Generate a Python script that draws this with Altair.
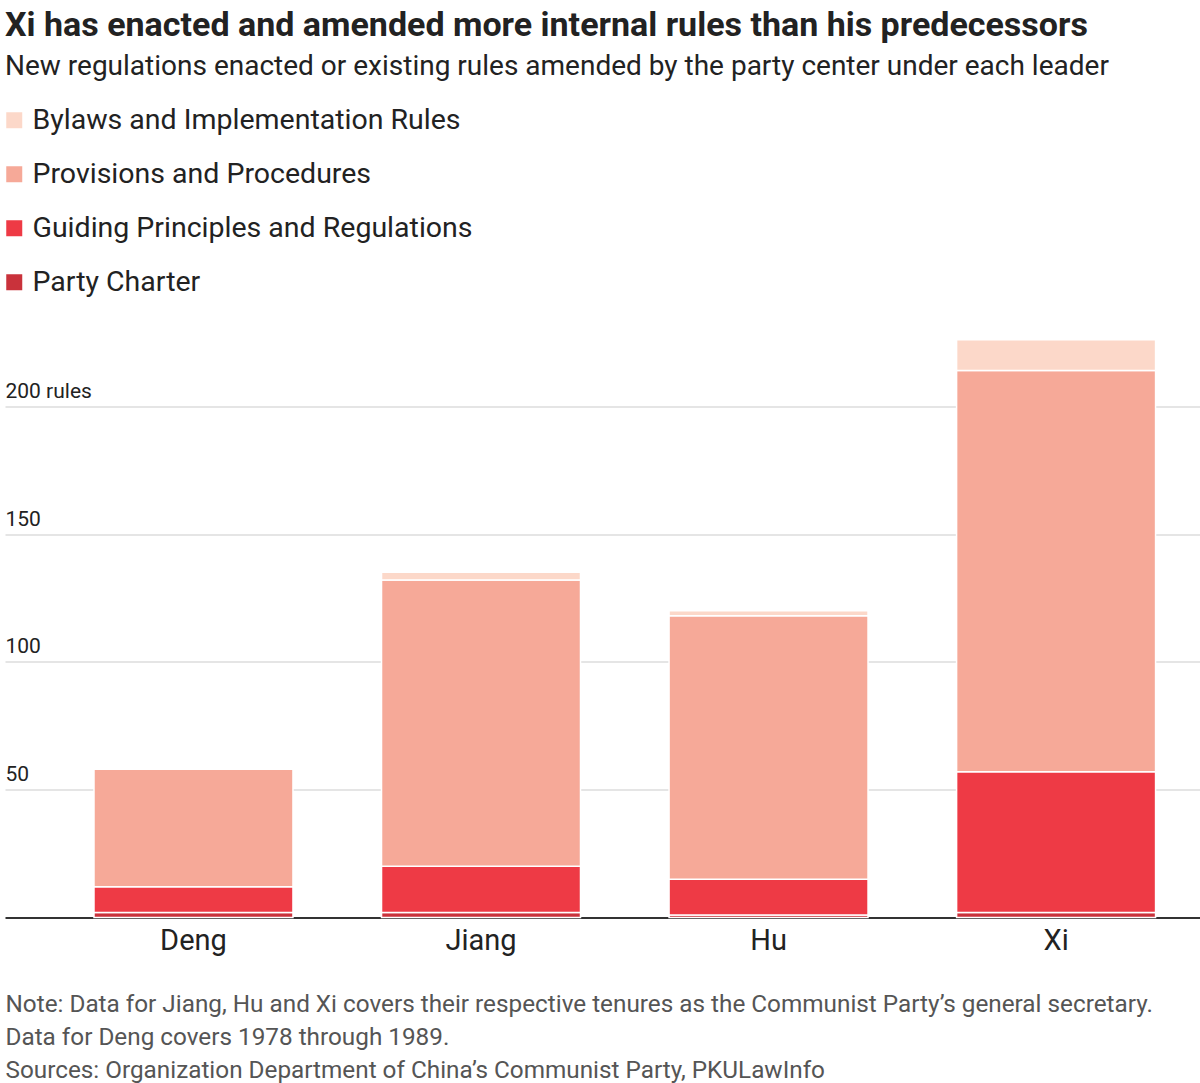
import altair as alt
import pandas as pd

leaders = ["Deng", "Jiang", "Hu", "Xi"]
categories = [
    "Bylaws and Implementation Rules",
    "Provisions and Procedures",
    "Guiding Principles and Regulations",
    "Party Charter",
]
colors = ["#fcd8c9", "#f6a998", "#ee3a45", "#c9323b"]

party_charter = [2, 2, 1, 2]
guiding_principles = [10, 18, 14, 55]
provisions = [46, 112, 103, 157]
bylaws = [0, 3, 2, 12]

series = {
    "Party Charter": party_charter,
    "Guiding Principles and Regulations": guiding_principles,
    "Provisions and Procedures": provisions,
    "Bylaws and Implementation Rules": bylaws,
}
stack_rank = {"Party Charter": 0, "Guiding Principles and Regulations": 1,
              "Provisions and Procedures": 2, "Bylaws and Implementation Rules": 3}

rows = []
for cat, vals in series.items():
    for leader, v in zip(leaders, vals):
        rows.append({"leader": leader, "category": cat, "value": v, "rank": stack_rank[cat]})
df = pd.DataFrame(rows)

SANS = "Roboto, Noto Sans, sans-serif"

notes = [
    "Note: Data for Jiang, Hu and Xi covers their respective tenures as the Communist Party\u2019s general secretary.",
    "Data for Deng covers 1978 through 1989.",
    "Sources: Organization Department of China\u2019s Communist Party, PKULawInfo",
]

chart = alt.Chart(df).mark_bar(stroke="white", strokeWidth=1.5).encode(
    x=alt.X(
        "leader:N",
        sort=leaders,
        scale=alt.Scale(paddingInner=0.308, paddingOuter=0.232, align=0.667),
        axis=alt.Axis(
            title=notes,
            titleFont=SANS,
            titleFontSize=24.3,
            titleFontWeight="normal",
            titleColor="#555555",
            titleAlign="left",
            titleAnchor="start",
            titleX=0,
            titleY=94,
            titleBaseline="alphabetic",
            titleLineHeight=33,
            labelFont=SANS,
            labelFontSize=29,
            labelColor="#222222",
            labelPadding=9,
            labelAngle=0,
            ticks=False,
            domainColor="#333333",
            domainWidth=2,
        ),
    ),
    y=alt.Y(
        "sum(value):Q",
        stack="zero",
        scale=alt.Scale(domain=[0, 230], nice=False),
        axis=alt.Axis(
            title=None,
            values=[50, 100, 150, 200],
            labelExpr="datum.value == 200 ? '200 rules' : datum.label",
            labelFont=SANS,
            labelFontSize=21,
            labelColor="#222222",
            labelAlign="left",
            labelBaseline="alphabetic",
            labelPadding=0,
            labelOffset=-9,
            labelOverlap=False,
            labelFlush=False,
            tickSize=0,
            ticks=False,
            domain=False,
            grid=True,
            gridColor="#dddddd",
            gridWidth=1.5,
        ),
    ),
    color=alt.Color(
        "category:N",
        sort=categories,
        scale=alt.Scale(domain=categories, range=colors),
        legend=alt.Legend(
            title=None,
            orient="none",
            legendX=-5,
            legendY=-223.5,
            symbolType="square",
            symbolSize=256,
            symbolStrokeWidth=0,
            symbolOpacity=1,
            labelFont=SANS,
            labelFontSize=28.5,
            labelColor="#222222",
            labelOffset=4,
            rowPadding=25,
            padding=0,
            labelLimit=800,
        ),
    ),
    order=alt.Order("rank:Q", sort="ascending"),
).properties(
    width=1195,
    height=588,
    background="white",
    autosize=alt.AutoSizeParams(type="none"),
    padding={"left": 5, "top": 329.5, "right": 0, "bottom": 165.5},
    title=alt.TitleParams(
        text="Xi has enacted and amended more internal rules than his predecessors",
        subtitle="New regulations enacted or existing rules amended by the party center under each leader",
        anchor="start",
        frame="group",
        font=SANS,
        fontSize=34,
        fontWeight="bold",
        color="#222222",
        subtitleFont=SANS,
        subtitleFontSize=28,
        subtitleColor="#222222",
        subtitlePadding=10,
        offset=25,
    ),
).configure_view(stroke=None, strokeWidth=0)

chart.save("out.html", embed_options={"renderer": "svg", "actions": False})
